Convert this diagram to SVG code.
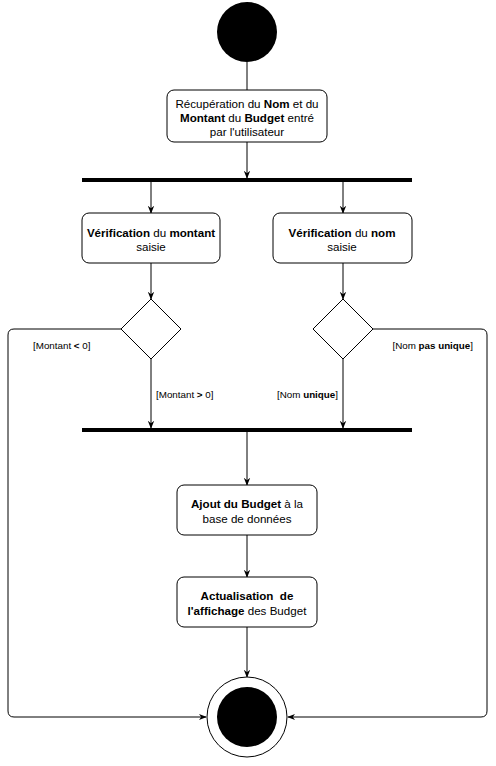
<svg xmlns="http://www.w3.org/2000/svg" width="496" height="766" viewBox="0 0 496 766">
<style>
.box{fill:#fff;stroke:#000;stroke-width:1}
.t{font-family:"Liberation Sans",Arial,sans-serif;font-size:11.6px;text-anchor:middle;fill:#000}
.l{font-family:"Liberation Sans",Arial,sans-serif;font-size:9.8px;fill:#000}
.b{font-weight:bold}
.c{fill:none;stroke:#000;stroke-width:1}
.bar{fill:#000}
</style>
<defs>
<marker id="a" viewBox="0 0 10 10" refX="9" refY="5" markerWidth="8" markerHeight="8" markerUnits="userSpaceOnUse" orient="auto">
<path d="M0,1 L10,5 L0,9 L3,5 z" fill="#000"/>
</marker>
</defs>
<rect width="496" height="766" fill="#fff"/>
<g id="connectors">
<line class="c" x1="247" y1="62" x2="247" y2="90"/>
<line class="c" x1="247" y1="142" x2="247" y2="178" marker-end="url(#a)"/>
<line class="c" x1="151" y1="182" x2="151" y2="213" marker-end="url(#a)"/>
<line class="c" x1="343" y1="182" x2="343" y2="213" marker-end="url(#a)"/>
<line class="c" x1="151" y1="263" x2="151" y2="299" marker-end="url(#a)"/>
<line class="c" x1="343" y1="263" x2="343" y2="299" marker-end="url(#a)"/>
<line class="c" x1="151" y1="359" x2="151" y2="428" marker-end="url(#a)"/>
<line class="c" x1="343" y1="359" x2="343" y2="428" marker-end="url(#a)"/>
<path class="c" d="M121,329 L14,329 Q8,329 8,335 L8,711 Q8,717 14,717 L206,717" marker-end="url(#a)"/>
<path class="c" d="M373,329 L481,329 Q487,329 487,335 L487,711 Q487,717 481,717 L288,717" marker-end="url(#a)"/>
<line class="c" x1="247" y1="432" x2="247" y2="485" marker-end="url(#a)"/>
<line class="c" x1="247" y1="535" x2="247" y2="577" marker-end="url(#a)"/>
<line class="c" x1="247" y1="627" x2="247" y2="677" marker-end="url(#a)"/>
<text class="l" x="33" y="349">[Montant <tspan class="b">&lt;</tspan> 0]</text>
<text class="l" x="473" y="349" text-anchor="end">[Nom <tspan class="b">pas unique</tspan>]</text>
<text class="l" x="156" y="398">[Montant <tspan class="b">&gt;</tspan> 0]</text>
<text class="l" x="338" y="398" text-anchor="end">[Nom <tspan class="b">unique</tspan>]</text>
</g>
<g id="start"><circle cx="247" cy="32" r="30" fill="#000"/></g>
<g id="recup">
<rect class="box" x="167" y="90" width="160" height="52" rx="7"/>
<text class="t" x="247" y="108">Récupération du <tspan class="b">Nom</tspan> et du</text>
<text class="t" x="247" y="122"><tspan class="b">Montant</tspan> du <tspan class="b">Budget</tspan> entré</text>
<text class="t" x="247" y="136">par l'utilisateur</text>
</g>
<g id="fork"><rect class="bar" x="82" y="178" width="330" height="4"/></g>
<g id="verifMontant">
<rect class="box" x="82" y="213" width="138" height="50" rx="7"/>
<text class="t" x="151" y="237"><tspan class="b">Vérification</tspan> du <tspan class="b">montant</tspan></text>
<text class="t" x="151" y="251">saisie</text>
</g>
<g id="verifNom">
<rect class="box" x="273" y="213" width="139" height="50" rx="7"/>
<text class="t" x="342" y="237"><tspan class="b">Vérification</tspan> du <tspan class="b">nom</tspan></text>
<text class="t" x="342" y="251">saisie</text>
</g>
<g id="decMontant"><path class="box" d="M151,299 L181,329 L151,359 L121,329 Z"/></g>
<g id="decNom"><path class="box" d="M343,299 L373,329 L343,359 L313,329 Z"/></g>
<g id="join"><rect class="bar" x="82" y="428" width="330" height="4"/></g>
<g id="ajout">
<rect class="box" x="177" y="485" width="140" height="50" rx="7"/>
<text class="t" x="247" y="508"><tspan class="b">Ajout du Budget</tspan> à la</text>
<text class="t" x="247" y="523">base de données</text>
</g>
<g id="actualisation">
<rect class="box" x="177" y="577" width="140" height="50" rx="7"/>
<text class="t" x="247" y="600" xml:space="preserve"><tspan class="b">Actualisation  de</tspan></text>
<text class="t" x="247" y="615"><tspan class="b">l'affichage</tspan> des Budget</text>
</g>
<g id="end">
<circle cx="247" cy="717" r="40" fill="#fff" stroke="#000" stroke-width="1"/>
<circle cx="247" cy="717" r="30" fill="#000"/>
</g>
</svg>
